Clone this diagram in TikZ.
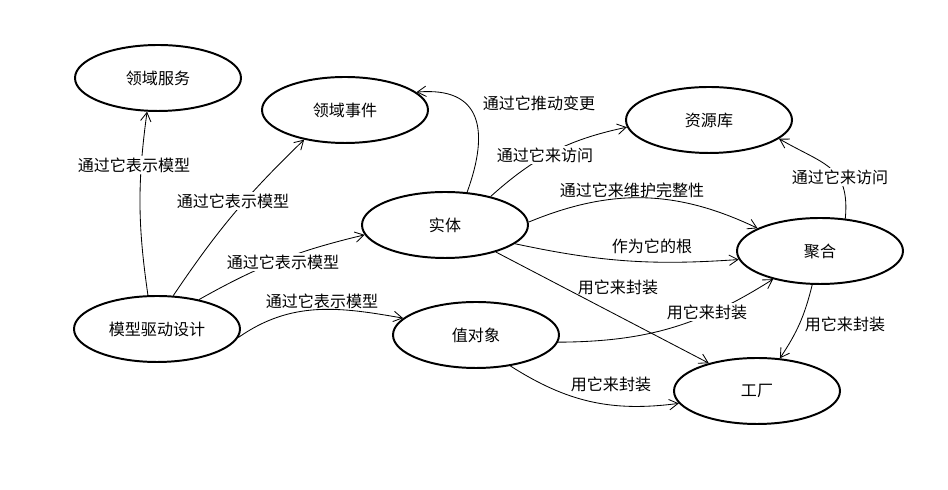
\documentclass[tikz,border=0pt]{standalone}
\usepackage{fontspec}
\setmainfont{Noto Sans CJK SC}
\usetikzlibrary{shapes.geometric,arrows.meta}

\begin{document}
\begin{tikzpicture}[>={Straight Barb[length=2.2mm,width=2.6mm]},
  concept/.style={draw, ellipse, line width=1.4pt, minimum width=4.15cm, minimum height=1.65cm, inner sep=0pt, font=\fontsize{11.4}{13}\selectfont},
  rel/.style={->, line width=0.6pt},
  tag/.style={inner sep=1pt, font=\fontsize{11.4}{13}\selectfont}]
\useasboundingbox (0,0) rectangle (23.7,12.25);

\node[concept] (svc) at (3.95,10.3) {领域服务};
\node[concept] (evt) at (8.625,9.5) {领域事件};
\node[concept] (repo) at (17.725,9.25) {资源库};
\node[concept] (ent) at (11.125,6.625) {实体};
\node[concept] (agg) at (20.5,5.975) {聚合};
\node[concept] (mdd) at (3.925,4.025) {模型驱动设计};
\node[concept] (vo) at (11.9,3.875) {值对象};
\node[concept] (fac) at (18.925,2.475) {工厂};

\draw[rel] (mdd.105) to[bend left=8] (svc.252);
\draw[rel] (mdd.64) to[bend left=6] (evt.216);
\draw[rel] (mdd.35) to[bend left=8] (ent.187);
\draw[rel] (mdd.354) to[out=35,in=170] (vo.167);
\draw[rel] (ent.56) to[out=70,in=5,looseness=1.5] (evt.14);
\draw[rel] (ent.32) to[bend left=15] (repo.185);
\draw[rel] (ent.2) to[bend left=24] (agg.160);
\draw[rel] (ent.345) to[bend right=8] (agg.186);
\draw[rel] (ent.332) -- (fac.150);
\draw[rel] (vo.355) to[bend right=16] (agg.211);
\draw[rel] (vo.318) to[bend right=20] (fac.189);
\draw[rel] (agg.52) to[out=85,in=-30,looseness=1.3] (repo.345);
\draw[rel] (agg.257) to[bend left=10] (fac.55);

% labels
\node[tag, fill=white] (l1) at (3.35,8.125) {通过它表示模型};
\node[tag, fill=white] (l2) at (5.825,7.225) {通过它表示模型};
\node[tag, fill=white] (l3) at (7.075,5.7) {通过它表示模型};
\node[tag] (l4) at (8.05,4.725) {通过它表示模型};
\node[tag] (l5) at (13.475,9.675) {通过它推动变更};
\node[tag, fill=white] (l6) at (13.625,8.375) {通过它来访问};
\node[tag] (l7) at (15.8,7.5) {通过它来维护完整性};
\node[tag] (l8) at (16.3,6.1) {作为它的根};
\node[tag] (l9) at (15.45,5.075) {用它来封装};
\node[tag, fill=white] (l10) at (17.675,4.45) {用它来封装};
\node[tag] (l11) at (15.275,2.65) {用它来封装};
\node[tag, fill=white] (l12) at (21.0,7.825) {通过它来访问};
\node[tag] (l13) at (21.125,4.15) {用它来封装};
\end{tikzpicture}
\end{document}
